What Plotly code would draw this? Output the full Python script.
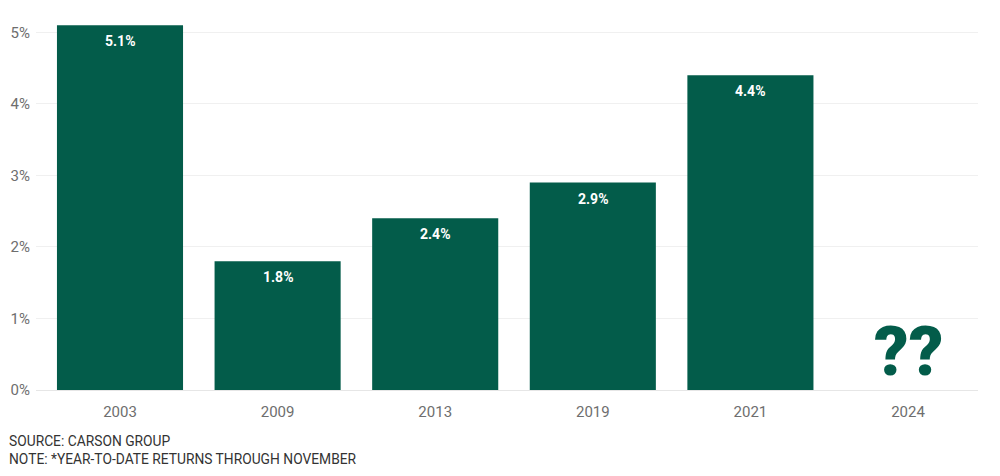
import plotly.graph_objects as go

years = ["2003", "2009", "2013", "2019", "2021", "2024"]
returns = [5.1, 1.8, 2.4, 2.9, 4.4, None]
labels = ["5.1%", "1.8%", "2.4%", "2.9%", "4.4%", ""]
unknown_label = "??"
y_ticks = [0, 1, 2, 3, 4, 5]
y_tick_text = ["0%", "1%", "2%", "3%", "4%", "5%"]
source_lines = ["SOURCE: CARSON GROUP", "NOTE: *YEAR-TO-DATE RETURNS THROUGH NOVEMBER"]

GREEN = "#035c4a"
FONT = "Roboto, Arial, sans-serif"

fig = go.Figure()
fig.add_trace(go.Bar(
    x=years, y=[v if v is not None else 0 for v in returns],
    marker=dict(color=GREEN, line=dict(width=0)),
    hoverinfo="skip",
))

for i, (v, lab) in enumerate(zip(returns, labels)):
    if v is None:
        continue
    fig.add_annotation(x=i, y=v, text="<b>" + lab + "</b>", showarrow=False,
                       yanchor="top", yshift=-6,
                       font=dict(family=FONT, size=14, color="white"))

fig.add_annotation(x=len(years) - 1, y=0, text=unknown_label, showarrow=False,
                   yanchor="bottom", yshift=-4,
                   font=dict(family="Roboto", size=68, color=GREEN, weight=900))

fig.add_annotation(xref="paper", yref="paper", x=0, y=0, xanchor="left", yanchor="top",
                   xshift=-29, yshift=-41, align="left",
                   text="<br>".join(source_lines), showarrow=False,
                   font=dict(family=FONT, size=13.8, color="#333333"))

fig.update_layout(
    width=1000, height=476,
    margin=dict(l=36, r=22, t=18, b=86),
    plot_bgcolor="white", paper_bgcolor="white",
    bargap=0.2, showlegend=False,
    font=dict(family=FONT),
)
fig.update_xaxes(
    type="category", range=[-0.533, 5.444],
    showgrid=False, showline=True, linecolor="#e6e6e6", linewidth=1,
    ticks="", ticklabelstandoff=8, tickfont=dict(size=15, color="#6e6e6e"),
)
fig.update_yaxes(
    range=[0, 5.2], tickvals=y_ticks, ticktext=y_tick_text,
    showgrid=True, gridcolor="#f0f0f0", gridwidth=1, zeroline=False,
    ticks="", ticklabelstandoff=5,
    tickfont=dict(size=15, color="#6e6e6e"),
)

fig.write_html("out.html")
